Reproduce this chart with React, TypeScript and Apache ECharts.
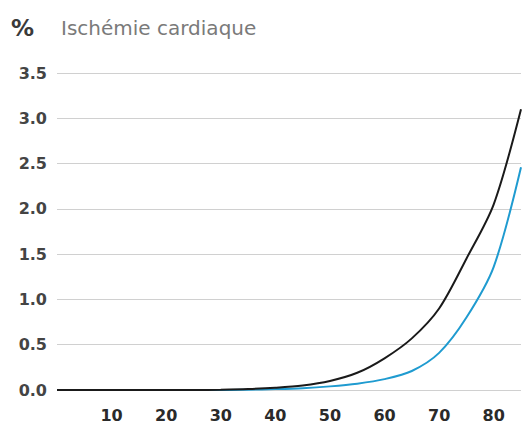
import React, { useEffect, useRef } from "react";
import * as echarts from "echarts";

const ages = [0, 5, 10, 15, 20, 25, 30, 35, 40, 45, 50, 55, 60, 65, 70, 75, 80, 85];
const blackSeries = [0, 0, 0, 0, 0, 0, 0.003, 0.01, 0.025, 0.05, 0.1, 0.19, 0.35, 0.57, 0.9, 1.45, 2.05, 3.1];
const blueSeries = [0, 0, 0, 0, 0, 0, 0, 0.004, 0.01, 0.02, 0.04, 0.07, 0.12, 0.21, 0.41, 0.8, 1.36, 2.46];
const yTicks = [0, 0.5, 1, 1.5, 2, 2.5, 3, 3.5];
const titleUnit = "%";
const titleText = "Ischémie cardiaque";

export default function App() {
  const ref = useRef<HTMLDivElement>(null);
  useEffect(() => {
    if (!ref.current) return;
    const chart = echarts.init(ref.current, undefined, { renderer: "svg" });
    chart.setOption({
      animation: false,
      backgroundColor: "#ffffff",
      grid: { left: 57, right: 3, top: 73, bottom: 37 },
      graphic: [
        {
          type: "text",
          left: 11,
          top: 16,
          style: { text: titleUnit, font: "bold 23px 'DejaVu Sans', sans-serif", fill: "#3a3a3a" },
        },
        {
          type: "text",
          left: 61,
          top: 18,
          style: { text: titleText, font: "20px 'DejaVu Sans', sans-serif", fill: "#7a7a7a" },
        },
      ],
      xAxis: {
        type: "value",
        min: 0,
        max: 85,
        interval: 10,
        axisLine: { show: false },
        axisTick: { show: false },
        splitLine: { show: false },
        axisLabel: {
          margin: 17,
          showMaxLabel: false,
          fontFamily: "'DejaVu Sans', sans-serif",
          fontWeight: "bold",
          fontSize: 16,
          color: "#2a2a2a",
          formatter: (v: number) => (v === 0 ? "" : String(v)),
        },
      },
      yAxis: {
        type: "value",
        min: yTicks[0],
        max: yTicks[yTicks.length - 1],
        interval: 0.5,
        axisLine: { show: false },
        axisTick: { show: false },
        splitLine: { lineStyle: { color: "#d0d0d0", width: 1 } },
        axisLabel: {
          margin: 10,
          fontFamily: "'DejaVu Sans', sans-serif",
          fontWeight: "bold",
          fontSize: 16,
          color: "#444",
          formatter: (v: number) => v.toFixed(1),
        },
      },
      series: [
        {
          type: "line",
          data: ages.map((a, i) => [a, blueSeries[i]]),
          smooth: 0.3,
          showSymbol: false,
          lineStyle: { color: "#1f9bd0", width: 2 },
        },
        {
          type: "line",
          data: ages.map((a, i) => [a, blackSeries[i]]),
          smooth: 0.3,
          showSymbol: false,
          lineStyle: { color: "#1a1a1a", width: 2 },
        },
      ],
    });
    return () => chart.dispose();
  }, []);
  return <div ref={ref} style={{ width: 524, height: 427, position: "absolute", left: 0, top: 0 }} />;
}
